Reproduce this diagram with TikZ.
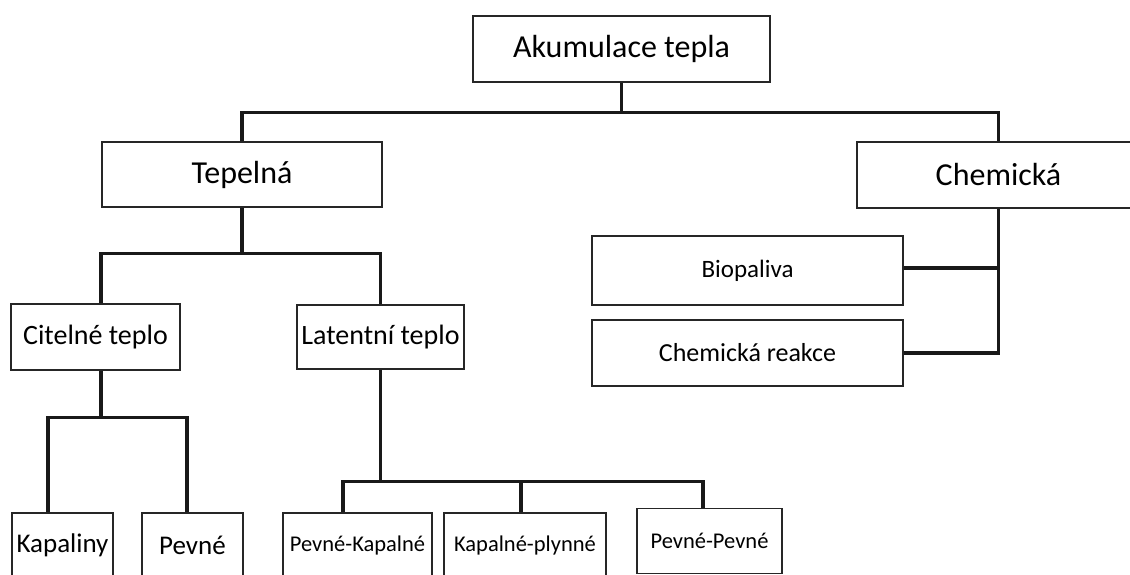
\documentclass[tikz,border=0pt]{standalone}
\usepackage{fontspec}
\setmainfont{Carlito}
\usepackage{tikz}
\usetikzlibrary{calc}

\tikzset{
  box/.style={draw=black!85, line width=1.2pt, fill=white, inner sep=2pt, align=center},
  boxbig/.style={box, font=\fontsize{32}{38}\selectfont},
  boxmid/.style={box, font=\fontsize{28}{34}\selectfont},
  boxsmall/.style={box, font=\fontsize{22.5}{27}\selectfont},
  conn/.style={draw=black!90, line width=3.6pt, line join=miter}
}

\begin{document}
\begin{tikzpicture}[x=1pt, y=-1pt]
  \useasboundingbox (0,0) rectangle (1130,575);
  \clip (0,0) rectangle (1130,575);

  % top level
  \node[boxbig, minimum width=297pt, minimum height=66pt] (root) at (621.5,49) {Akumulace tepla};
  \node[boxbig, minimum width=280pt, minimum height=65pt] (tep) at (242,174.5) {Tepelná};
  \node[boxbig, minimum width=283pt, minimum height=66pt] (chem) at (998.5,175) {Chemická};

  % chemical branch
  \node[boxmid, font=\fontsize{25}{30}\selectfont, minimum width=311pt, minimum height=69pt] (bio) at (747.5,270.5) {Biopaliva};
  \node[boxmid, font=\fontsize{26}{31}\selectfont, minimum width=311pt, minimum height=66pt] (reak) at (747.5,353) {Chemická reakce};

  % thermal branch
  \node[boxmid, minimum width=169pt, minimum height=66pt] (cit) at (95.5,337) {Citelné teplo};
  \node[boxmid, minimum width=167pt, minimum height=64pt] (lat) at (380.5,337) {Latentní teplo};

  \node[boxmid, font=\fontsize{27}{32}\selectfont, minimum width=101pt, minimum height=65pt] (kap) at (62.5,545.5) {Kapaliny};
  \node[boxmid, font=\fontsize{27}{32}\selectfont, minimum width=101pt, minimum height=65pt] (pev) at (192.5,545.5) {Pevné};

  \node[boxsmall, minimum width=149pt, minimum height=65pt] (pk) at (357.5,545.5) {Pevné-Kapalné};
  \node[boxsmall, minimum width=162pt, minimum height=65pt] (kp) at (525,545.5) {Kapalné-plynné};
  \node[boxsmall, minimum width=145pt, minimum height=65pt] (pp) at (709.5,541) {Pevné-Pevné};

  % connectors
  \draw[conn] (root.south) -- ++(0,30) coordinate (busA);
  \draw[conn] (tep.north) |- (busA) -| (chem.north);

  \draw[conn] (tep.south) -- ++(0,46) coordinate (busB);
  \draw[conn] ([xshift=5.5pt]cit.north) |- (busB) -| (lat.north);

  \draw[conn] ([xshift=5.5pt]cit.south) -- ++(0,47) coordinate (busC);
  \draw[conn] ([xshift=-14.5pt]kap.north) |- (busC) -| ([xshift=-5.5pt]pev.north);

  \draw[conn] (lat.south) -- ++(0,112) coordinate (busD);
  \draw[conn] ([xshift=-14.5pt]pk.north) |- (busD) -| ([xshift=-6.5pt]pp.north);
  \draw[conn] ([xshift=-4pt]kp.north) -- ([xshift=-4pt]kp.north |- busD);

  \draw[conn] (chem.south) |- (reak.east);
  \draw[conn] ([yshift=2.5pt]bio.east) -- ([yshift=2.5pt]bio.east -| chem.south);
\end{tikzpicture}
\end{document}
